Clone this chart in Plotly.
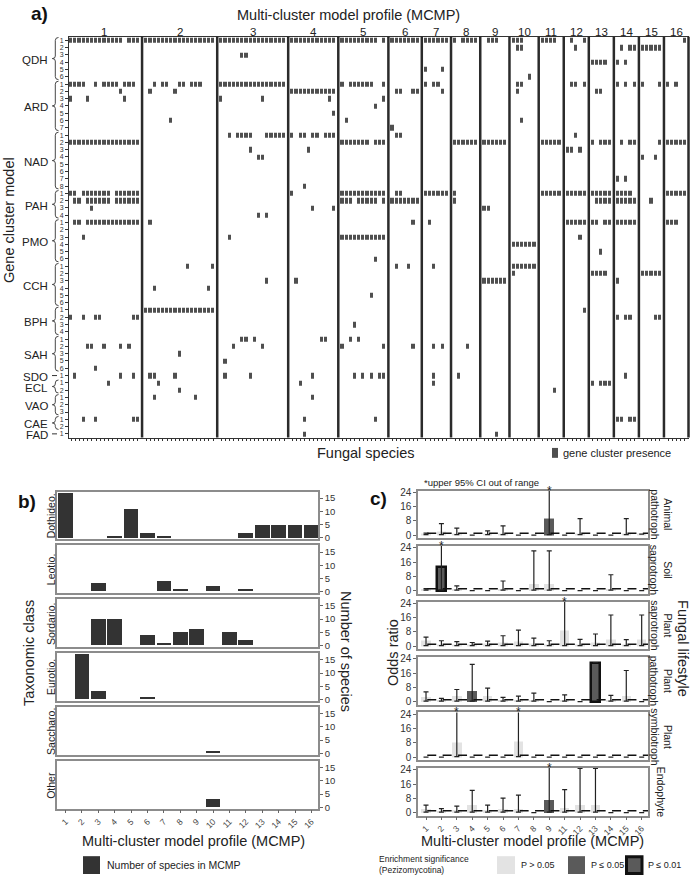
import plotly.graph_objects as go

W, H = 696, 879
FONT = "Arial, Liberation Sans, sans-serif"
CELL = "#4f4f4f"
BAR = "#333333"
BOX = "#8c8c8c"

# ---------------- panel a data ----------------
families = ["QDH", "ARD", "NAD", "PAH", "PMO", "CCH", "BPH", "SAH", "SDO", "ECL", "VAO", "CAE", "FAD"]
family_models = [
    ["1", "2", "3", "4", "5", "6"],
    ["1", "2", "3", "4", "5", "6", "7"],
    ["1", "2", "3", "4", "5", "6", "7", "8"],
    ["1", "2", "3", "4"],
    ["1", "2", "3", "4", "5", "6"],
    ["1", "2", "3", "4", "5", "6"],
    ["1", "2", "3", "4"],
    ["1", "2", "3", "5", "6"],
    ["1"],
    ["1", "2"],
    ["1", "2", "3"],
    ["1", "2"],
    ["1"],
]
mcmp_labels = ["1", "2", "3", "4", "5", "6", "7", "8", "9", "10", "11", "12", "13", "14", "15", "16"]
species_per_mcmp = [17, 17, 16, 11, 11, 7, 6, 6, 6, 6, 5, 5, 5, 5, 5, 5]

# species (column index inside each MCMP block) carrying each gene cluster model
presence = {
    "QDH1": {1: "0-12,14-16", 2: "all", 3: "all", 4: "all", 5: "0-8,10", 6: "all", 7: "all",
             8: "0,2-5", 9: "1-3", 10: "0-2", 11: "0-3", 12: "1,4", 16: "4"},
    "QDH2": {10: "1-2", 12: "2", 14: "1,3,4", 15: "all"},
    "QDH3": {3: "5,6"},
    "QDH4": {13: "0-3", 14: "0,2"},
    "QDH5": {7: "0,4"},
    "QDH6": {10: "4"},
    "ARD1": {1: "0-3,6,8-11,13-15", 2: "2,4,5,8,9,11-13", 3: "all", 5: "0,2-7,10", 7: "0,2,3",
             10: "1,2", 12: "1,2,4", 14: "0,2,4", 15: "0,4", 16: "0,2"},
    "ARD2": {1: "12", 2: "1,7", 4: "all", 6: "1,2,5,6", 7: "4", 10: "1", 13: "1,2"},
    "ARD3": {1: "0,4,13", 3: "0,10", 4: "9", 5: "10"},
    "ARD4": {5: "8"},
    "ARD5": {4: "10"},
    "ARD6": {2: "6", 5: "1", 10: "2"},
    "ARD7": {6: "0"},
    "NAD1": {3: "2,4-7,11-15", 4: "0,2,3,5,6,8-10", 6: "1,2", 12: "2"},
    "NAD2": {1: "all", 5: "0-6,8-10", 8: "all", 9: "all", 11: "all", 13: "0,2-4", 14: "1,3,4",
             15: "4", 16: "all"},
    "NAD3": {3: "7", 4: "4", 12: "0,1,3"},
    "NAD4": {3: "9,10", 15: "0,3"},
    "NAD7": {14: "0,2"},
    "NAD8": {4: "3"},
    "PAH1": {1: "0,1,3-9,11-16", 4: "0", 5: "all", 6: "1,2", 7: "all", 8: "0", 11: "all", 12: "all",
             13: "all", 14: "0-3", 16: "all"},
    "PAH2": {1: "1,2,4-9,11-16", 5: "0-2,4-8,10", 6: "all", 8: "0", 13: "1-4", 14: "all", 15: "2"},
    "PAH3": {1: "5", 4: "5,10", 9: "0,1"},
    "PAH4": {3: "9,11"},
    "PMO1": {1: "1,2,4-16", 2: "1", 6: "5", 7: "1", 12: "all", 13: "0,1,3,4", 14: "all", 16: "0-2"},
    "PMO3": {1: "3", 3: "2", 5: "all", 12: "3"},
    "PMO4": {10: "all"},
    "PMO5": {13: "2"},
    "PMO6": {5: "8"},
    "CCH1": {2: "10,16", 6: "1,4", 7: "2", 10: "all"},
    "CCH2": {10: "0", 13: "0-3", 15: "all"},
    "CCH3": {3: "11", 4: "1", 9: "all", 14: "0"},
    "CCH4": {2: "2,15"},
    "CCH5": {5: "7"},
    "BPH1": {2: "all", 12: "4"},
    "BPH2": {1: "0,3,6,7,15,16", 14: "0,2,3", 15: "3,4"},
    "BPH3": {5: "3"},
    "SAH1": {3: "5,6,8", 4: "7,8", 5: "2,4"},
    "SAH2": {1: "4,5,8,12,14", 3: "3,10", 5: "0,10", 6: "5", 7: "2,4", 8: "3"},
    "SAH3": {2: "8"},
    "SAH5": {3: "1"},
    "SAH6": {1: "6"},
    "SDO1": {1: "1,12,15", 2: "1,2,7", 3: "1,7", 4: "5", 5: "3,5,7,9,10", 7: "2", 8: "1", 14: "2"},
    "ECL1": {1: "9", 2: "3", 4: "2", 7: "2", 13: "0,2-4"},
    "ECL2": {2: "8", 11: "3"},
    "VAO1": {2: "2,12", 4: "5"},
    "CAE1": {1: "3,6,15,16", 4: "3", 5: "8", 14: "0,1,3,4"},
    "FAD1": {4: "3", 9: "3"},
}

# ---------------- panel b data ----------------
classes = ["Dothideo.", "Leotio.", "Sordario.", "Eurotio.", "Saccharo.", "Other"]
dothideo_n = [17, 0, 0, 1, 11, 2, 1, 0, 0, 0, 0, 2, 5, 5, 5, 5]
leotio_n = [0, 0, 3, 0, 0, 0, 4, 1, 0, 2, 0, 1, 0, 0, 0, 0]
sordario_n = [0, 0, 10, 10, 0, 4, 1, 5, 6, 0, 5, 2, 0, 0, 0, 0]
eurotio_n = [0, 17, 3, 0, 0, 1, 0, 0, 0, 0, 0, 0, 0, 0, 0, 0]
saccharo_n = [0, 0, 0, 0, 0, 0, 0, 0, 0, 1, 0, 0, 0, 0, 0, 0]
other_n = [0, 0, 0, 0, 0, 0, 0, 0, 0, 3, 0, 0, 0, 0, 0, 0]
class_counts = [dothideo_n, leotio_n, sordario_n, eurotio_n, saccharo_n, other_n]

# ---------------- panel c data ----------------
mcmp_c = ["1", "2", "3", "4", "5", "6", "7", "8", "9", "11", "12", "13", "14", "15", "16"]
lifestyles = ["Animal<br>pathotroph", "Soil<br>saprotroph", "Plant<br>saprotroph",
              "Plant<br>pathotroph", "Plant<br>symbiotroph", "Endophyte"]
OUT = 40  # upper CI beyond the axis (marked with *)
ci_lower = [0.2, 0.2, 0.2, 0.2, 0.2, 0.2, 0.2, 0.2, 0.2, 0.2, 0.2, 0.2, 0.2, 0.2, 0.2]

animal_or = [0.5, 2.0, 0.8, 0, 0.6, 1.0, 0, 0, 9.3, 0, 0.8, 0, 0, 1.0, 0.5]
animal_up = [1.1, 6.5, 3.9, None, 2.4, 5.2, None, None, OUT, None, 9.3, None, None, 9.3, None]
animal_sig = [0, 0, 0, 0, 0, 0, 0, 0, 1, 0, 0, 0, 0, 0, 0]

soil_or = [0.4, 13.3, 0.5, 0, 0, 0.8, 0, 3.5, 3.5, 0, 0, 0, 0.8, 0, 0]
soil_up = [1.1, OUT, 2.6, None, None, 5.4, None, 22.4, 22.4, None, None, None, 8.9, None, None]
soil_sig = [0, 2, 0, 0, 0, 0, 0, 0, 0, 0, 0, 0, 0, 0, 0]

plant_sap_or = [3.0, 1.0, 1.0, 0.5, 1.2, 2.2, 2.8, 1.5, 0.8, 8.5, 1.0, 2.0, 3.8, 1.0, 3.6]
plant_sap_up = [5.0, 3.0, 2.5, 2.0, 2.8, 5.8, 9.0, 4.5, 3.0, OUT, 3.8, 6.8, 17.5, 3.6, 17.5]
plant_sap_sig = [0, 0, 0, 0, 0, 0, 0, 0, 0, 0, 0, 0, 0, 0, 0]

plant_path_or = [2.5, 0.8, 3.0, 5.8, 3.0, 1.0, 1.0, 1.0, 0, 1.0, 0, 22.0, 1.0, 3.0, 0]
plant_path_up = [5.5, 1.8, 6.8, 21.0, 7.6, 2.4, 3.0, 4.8, None, 3.8, None, None, 3.5, 17.5, None]
plant_path_sig = [0, 0, 0, 1, 0, 0, 0, 0, 0, 0, 0, 2, 0, 0, 0]

plant_sym_or = [0, 0, 8.0, 0, 0, 0, 9.0, 0, 0, 0, 0, 0, 0, 0, 0]
plant_sym_up = [None, None, OUT, None, None, None, OUT, None, None, None, None, None, None, None, None]
plant_sym_sig = [0, 0, 0, 0, 0, 0, 0, 0, 0, 0, 0, 0, 0, 0, 0]

endo_or = [2.0, 0.8, 1.5, 4.5, 1.5, 2.0, 2.0, 0, 6.8, 2.5, 4.5, 4.5, 0, 0, 0]
endo_up = [4.2, 2.2, 3.6, 12.5, 4.2, 8.1, 9.8, None, OUT, 12.9, 24.8, 24.8, None, None, None]
endo_sig = [0, 0, 0, 0, 0, 0, 0, 0, 1, 0, 0, 0, 0, 0, 0]

odds_sets = [(animal_or, animal_up, animal_sig), (soil_or, soil_up, soil_sig),
             (plant_sap_or, plant_sap_up, plant_sap_sig), (plant_path_or, plant_path_up, plant_path_sig),
             (plant_sym_or, plant_sym_up, plant_sym_sig), (endo_or, endo_up, endo_sig)]
SIG_FILL = ["#e3e3e3", "#5a5a5a", "#5a5a5a"]
SIG_LINE = ["#e3e3e3", "#5a5a5a", "#111111"]
SIG_LW = [0, 0, 2.5]


def px(x):
    return x / W


def py(y):
    return 1 - y / H


def spec_cols(spec, n):
    if spec == "all":
        return list(range(n))
    out = []
    for part in spec.split(","):
        if "-" in part:
            a, b = part.split("-")
            out.extend(range(int(a), int(b) + 1))
        else:
            out.append(int(part))
    return out


annotations = []
shapes = []


def note(x, y, s, size=11, angle=0, xanchor="center", bold=False, color="#222", align="center"):
    if bold:
        s = "<b>" + s + "</b>"
    annotations.append(dict(x=px(x), y=py(y), xref="paper", yref="paper", text=s, showarrow=False,
                            textangle=angle, xanchor=xanchor, yanchor="middle", align=align,
                            font=dict(size=size, color=color, family=FONT)))


def rect(x0, y0, x1, y1, fill, line="rgba(0,0,0,0)", lw=0):
    shapes.append(dict(type="rect", xref="paper", yref="paper", x0=px(x0), x1=px(x1), y0=py(y1), y1=py(y0),
                       fillcolor=fill, line=dict(color=line, width=lw)))


fig = go.Figure()

# ---------------- panel a ----------------
row_keys, row_ticks = [], []
for fam, models in zip(families, family_models):
    for m in models:
        row_keys.append(fam + m)
        row_ticks.append(m)
nrows = len(row_keys)

starts = []
pos = 0
for n in species_per_mcmp:
    starts.append(pos)
    pos += n + 1
ncols = starts[-1] + species_per_mcmp[-1]

z = [[None] * ncols for _ in range(nrows)]
for ri, key in enumerate(row_keys):
    for g, spec in presence.get(key, {}).items():
        for c in spec_cols(spec, species_per_mcmp[g - 1]):
            z[ri][starts[g - 1] + c] = 1

species_x = [s + k for s, n in zip(starts, species_per_mcmp) for k in range(n)]

A_L, A_R, A_T, A_B = 69, 689, 33, 437.5
fig.add_trace(go.Heatmap(z=z, x=list(range(ncols)), y=list(range(nrows)),
                         colorscale=[[0, CELL], [1, CELL]], zmin=0, zmax=1, showscale=False,
                         xgap=1, ygap=2, hoverinfo="skip", xaxis="x", yaxis="y"))

layout_axes = dict(
    xaxis=dict(domain=[px(A_L), px(A_R)], range=[-0.5, ncols], anchor="y", tickvals=species_x,
               showticklabels=False, ticks="outside", ticklen=2.5, tickwidth=1, tickcolor="#333",
               showline=True, mirror=True, linecolor="#333", linewidth=1, showgrid=False, zeroline=False),
    yaxis=dict(domain=[py(A_B), py(A_T)], range=[nrows - 0.5, -0.5], anchor="x",
               tickvals=list(range(nrows)), ticktext=row_ticks, tickfont=dict(size=7, color="#333", family=FONT),
               ticks="outside", ticklen=3, tickwidth=0.8, tickcolor="#333", showline=True, linecolor="#333",
               linewidth=1, showgrid=False, zeroline=False),
)


def ax_px(v):
    return A_L + (v + 0.5) / (ncols + 0.5) * (A_R - A_L)


row_h = (A_B - A_T) / nrows
for g in range(1, len(starts)):
    xs = ax_px(starts[g] - 1)
    shapes.append(dict(type="line", xref="paper", yref="paper", x0=px(xs), x1=px(xs), y0=py(A_B), y1=py(A_T),
                       line=dict(color="#2b2b2b", width=2.5)))
shapes.append(dict(type="line", xref="paper", yref="paper", x0=px(A_R - 0.5), x1=px(A_R - 0.5), y0=py(A_B),
                   y1=py(A_T), line=dict(color="#2b2b2b", width=2.5)))

for g, lab in enumerate(mcmp_labels):
    note(ax_px(starts[g] + (species_per_mcmp[g] - 1) / 2), 28, lab, size=11.5)

# family braces and names
r = 0
for fam, models in zip(families, family_models):
    r0, r1 = r, r + len(models) - 1
    r += len(models)
    yt = A_T + r0 * row_h + 0.8
    yb = A_T + (r1 + 1) * row_h - 0.8
    ym = (yt + yb) / 2
    if r0 == r1:
        shapes.append(dict(type="line", xref="paper", yref="paper", x0=px(52), x1=px(57), y0=py(ym), y1=py(ym),
                           line=dict(color="#333", width=1)))
    else:
        xr, xm, xl = 58.5, 55.3, 52.3
        pts = ("M{},{} Q{},{} {},{} L{},{} Q{},{} {},{} Q{},{} {},{} L{},{} Q{},{} {},{}").format(
            px(xr), py(yt), px(xm), py(yt), px(xm), py(yt + 3),
            px(xm), py(ym - 2.5), px(xm), py(ym), px(xl), py(ym),
            px(xm), py(ym), px(xm), py(ym + 2.5),
            px(xm), py(yb - 3), px(xm), py(yb), px(xr), py(yb))
        shapes.append(dict(type="path", xref="paper", yref="paper", path=pts, line=dict(color="#333", width=0.9)))
    note(50, ym + 1.5, fam, size=11.5, xanchor="right")

note(39, 10, "a)", size=19, bold=True, color="#111")
note(349, 11, "Multi-cluster model profile (MCMP)", size=14.5)
note(9, 218, "Gene cluster model", size=14.5, angle=-90)
note(366, 453, "Fungal species", size=14.5)
rect(552, 448, 558, 458, CELL)
note(561, 453, "gene cluster presence", size=11, xanchor="left")

# ---------------- panel b ----------------
B_L, B_R = 57, 318
for i, (cls, counts) in enumerate(zip(classes, class_counts)):
    k = i + 2
    top = 492 + 54.4 * i
    last = i == len(classes) - 1
    fig.add_trace(go.Bar(x=list(range(16)), y=counts, width=0.9, marker=dict(color=BAR, line=dict(width=0)),
                         xaxis="x%d" % k, yaxis="y%d" % k, hoverinfo="skip"))
    layout_axes["xaxis%d" % k] = dict(domain=[px(B_L), px(B_R)], range=[-0.52, 15.4], anchor="y%d" % k,
                                      tickvals=list(range(16)), ticktext=mcmp_labels, showticklabels=last,
                                      ticks="outside" if last else "", ticklen=3, tickcolor="#666", tickangle=-45,
                                      tickfont=dict(size=8.5, color="#444", family=FONT),
                                      showline=True, mirror=True, linecolor=BOX, linewidth=1.5,
                                      showgrid=False, zeroline=False)
    layout_axes["yaxis%d" % k] = dict(domain=[py(top + 48), py(top)], range=[-0.5, 17.5], anchor="x%d" % k,
                                      side="right", tickvals=[0, 5, 10, 15], ticks="outside", ticklen=3,
                                      tickcolor="#666", tickfont=dict(size=9.5, color="#333", family=FONT),
                                      showline=True, mirror=True, linecolor=BOX, linewidth=1.5,
                                      showgrid=False, zeroline=False)
    note(51, top + 24, cls, size=10.5, angle=-90)

note(27, 502, "b)", size=19, bold=True, color="#111")
note(29, 655, "Taxonomic class", size=14.5, angle=-90)
note(346, 653, "Number of species", size=14.5, angle=90)
note(193, 845, "Multi-cluster model profile (MCMP)", size=14.5)
rect(83, 860, 100, 878, BAR)
note(105, 869, "Number of species in MCMP", size=10.5, xanchor="left")

# ---------------- panel c ----------------
C_L, C_R = 418, 648
xc = list(range(len(mcmp_c)))
for i, (life, (orv, upv, sig)) in enumerate(zip(lifestyles, odds_sets)):
    k = i + 8
    top = 491 + 56 * i
    last = i == len(lifestyles) - 1
    plus = [None if u is None else u - o for o, u in zip(orv, upv)]
    minus = [None if u is None else max(o - lo, 0) for o, u, lo in zip(orv, upv, ci_lower)]
    fig.add_trace(go.Bar(x=xc, y=orv, width=0.62,
                         marker=dict(color=[SIG_FILL[s] for s in sig],
                                     line=dict(color=[SIG_LINE[s] for s in sig], width=[SIG_LW[s] for s in sig])),
                         error_y=dict(type="data", symmetric=False, array=plus, arrayminus=minus,
                                      color="#222", thickness=1.2, width=2.5),
                         xaxis="x%d" % k, yaxis="y%d" % k, hoverinfo="skip"))
    fig.add_trace(go.Scatter(x=[0.08, 14.41], y=[1, 1], mode="lines",
                             line=dict(color="#111", width=1.6, dash="9px,6.4px"),
                             xaxis="x%d" % k, yaxis="y%d" % k, hoverinfo="skip"))
    layout_axes["xaxis%d" % k] = dict(domain=[px(C_L), px(C_R)], range=[-0.52, 14.41], anchor="y%d" % k,
                                      tickvals=xc, ticktext=mcmp_c, showticklabels=last,
                                      ticks="outside" if last else "", ticklen=3, tickcolor="#666", tickangle=-45,
                                      tickfont=dict(size=8.5, color="#444", family=FONT),
                                      showline=True, mirror=True, linecolor=BOX, linewidth=1.5,
                                      showgrid=False, zeroline=False)
    layout_axes["yaxis%d" % k] = dict(domain=[py(top + 48), py(top)], range=[-1.7, 25.1], anchor="x%d" % k,
                                      tickvals=[0, 8, 16, 24], ticks="outside", ticklen=3, tickcolor="#666",
                                      tickfont=dict(size=10, color="#333", family=FONT),
                                      showline=True, mirror=True, linecolor=BOX, linewidth=1.5,
                                      showgrid=False, zeroline=False)
    for j, u in enumerate(upv):
        if u == OUT:
            annotations.append(dict(x=j, y=25.1, xref="x%d" % k, yref="y%d" % k, text="*", showarrow=False,
                                    yanchor="middle", yshift=0, font=dict(size=12, color="#222", family=FONT)))
    note(661, top + 24, life, size=10.5, angle=90)

note(378, 499, "c)", size=19, bold=True, color="#111")
note(481, 483, "*upper 95% CI out of range", size=9.5)
note(393, 655, "Odds ratio", size=14.5, angle=-90)
note(683, 650, "Fungal lifestyle", size=14.5, angle=90)
note(532, 845, "Multi-cluster model profile (MCMP)", size=14.5)
note(377, 868.5, "Enrichment significance<br>(Pezizomycotina)", size=8.5, xanchor="left", align="left")
rect(497, 860, 515, 878, SIG_FILL[0])
note(518.5, 869, "P > 0.05", size=9, xanchor="left")
rect(568, 860, 585, 878, SIG_FILL[1])
note(588.5, 869, "P \u2264 0.05", size=9, xanchor="left")
rect(626.5, 860.5, 642, 877.5, SIG_FILL[2], line="#111", lw=3)
note(646, 869, "P \u2264 0.01", size=9, xanchor="left")

fig.update_layout(width=W, height=H, margin=dict(l=0, r=0, t=0, b=0), showlegend=False,
                  paper_bgcolor="white", plot_bgcolor="white", font=dict(family=FONT, color="#222"),
                  bargap=0, annotations=annotations, shapes=shapes, **layout_axes)

# page body has a default 8px margin; drop it so the 696x879 figure fills the window
fig.write_html("out.html", config={"displayModeBar": False},
               post_script="document.body.style.margin='0';document.body.style.overflow='hidden';")
